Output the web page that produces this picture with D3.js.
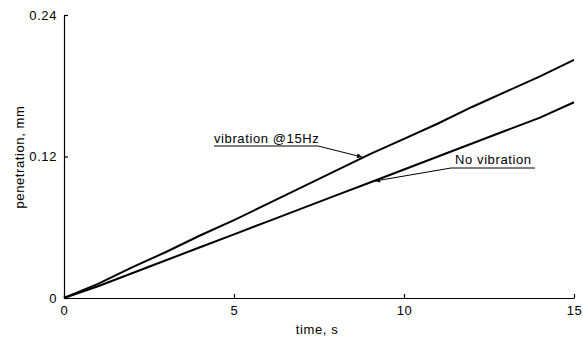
<!DOCTYPE html>
<html><head><meta charset="utf-8">
<script src="https://cdn.jsdelivr.net/npm/d3@7"></script>
<style>body{margin:0;background:#fff}svg{display:block}text{font-family:"Liberation Sans",Arial,sans-serif;fill:#000;letter-spacing:0.6px}</style>
</head><body>
<script>
const times = [0,1,2,3,4,5,6,7,8,9,10,11,12,13,14,15];
const vibration = [0,0.012,0.026,0.039,0.053,0.066,0.080,0.094,0.108,0.122,0.135,0.148,0.162,0.175,0.188,0.202];
const noVibration = [0,0.010,0.021,0.032,0.043,0.054,0.065,0.076,0.087,0.098,0.109,0.120,0.131,0.142,0.153,0.166];
const xTicks = [0,5,10,15];
const yTicks = [0,0.12,0.24];

const W=583,H=340;
const svg=d3.select("body").append("svg").attr("width",W).attr("height",H);
const x=d3.scaleLinear().domain([0,15]).range([64,574]);
const y=d3.scaleLinear().domain([0,0.24]).range([298,15]);

const xa=svg.append("g").attr("transform","translate(0,298)")
 .call(d3.axisBottom(x).tickValues(xTicks).tickSizeInner(-4).tickSizeOuter(0).tickPadding(8).tickFormat(d3.format("d")));
const ya=svg.append("g").attr("transform","translate(64,0)")
 .call(d3.axisLeft(y).tickValues(yTicks).tickSizeInner(-4).tickSizeOuter(0).tickPadding(7).tickFormat(d=>d===0?"0":d3.format(".2f")(d)));
[xa,ya].forEach(a=>{a.selectAll("path,line").attr("stroke","#000").attr("stroke-width",1.2);a.selectAll("text").attr("font-size",13).attr("font-family","'Liberation Sans',Arial,sans-serif");});

svg.append("text").attr("x",317).attr("y",334).attr("text-anchor","middle").attr("font-size",13).text("time, s");
svg.append("text").attr("transform","translate(24,157) rotate(-90)").attr("text-anchor","middle").attr("font-size",13).text("penetration, mm");

const line=d3.line().x((d,i)=>x(times[i])).y(d=>y(d));
[vibration,noVibration].forEach(s=>svg.append("path").datum(s).attr("d",line).attr("fill","none").attr("stroke","#000").attr("stroke-width",2));

svg.append("defs").append("marker").attr("id","ah").attr("viewBox","0 0 10 10").attr("refX",10).attr("refY",5)
 .attr("markerWidth",7).attr("markerHeight",5).attr("orient","auto").attr("markerUnits","userSpaceOnUse")
 .append("path").attr("d","M0,0L10,5L0,10z").attr("fill","#000");

// annotations
svg.append("text").attr("x",214).attr("y",143).attr("font-size",13).text("vibration @15Hz");
svg.append("path").attr("d","M214,146H318L362,157").attr("fill","none").attr("stroke","#000").attr("stroke-width",1).attr("marker-end","url(#ah)");
svg.append("text").attr("x",455).attr("y",164).attr("font-size",13).text("No vibration");
svg.append("path").attr("d","M535,168H451L375,181").attr("fill","none").attr("stroke","#000").attr("stroke-width",1).attr("marker-end","url(#ah)");
</script>
</body></html>
